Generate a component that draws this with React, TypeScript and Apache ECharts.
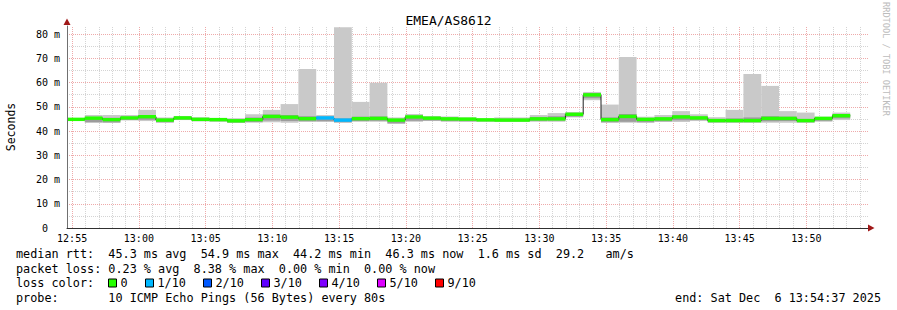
import React, { useEffect, useRef } from "react";
import * as echarts from "echarts";

// ---------- data ----------
const TITLE = "EMEA/AS8612";
const START = new Date(2025, 11, 6, 12, 54, 37).getTime();
const END = new Date(2025, 11, 6, 13, 54, 37).getTime();
const STEP_MS = 80 * 1000;

// x tick labels (hh, mm)
const xTickTimes: [number, number][] = [
  [12, 55], [13, 0], [13, 5], [13, 10], [13, 15], [13, 20],
  [13, 25], [13, 30], [13, 35], [13, 40], [13, 45], [13, 50],
];
const yTickValues = [0, 10, 20, 30, 40, 50, 60, 70, 80];

// median rtt per 80 s step (ms)
const medians = [
  44.8, 45.3, 44.7, 45.4, 45.9, 44.5, 45.4, 44.8, 44.7, 44.2,
  44.7, 46.0, 45.7, 45.1, 45.4, 44.5, 45.1, 45.2, 44.5, 45.8,
  45.3, 45.0, 44.9, 44.6, 44.5, 44.5, 45.0, 45.0, 46.9, 54.9,
  44.7, 46.0, 44.8, 45.0, 45.8, 45.4, 44.3, 44.3, 44.3, 45.2,
  45.2, 44.3, 45.2, 46.3,
];
// fastest ping per step
const pingMin = [
  44.2, 43.4, 43.4, 44.3, 44.1, 43.4, 44.5, 44.0, 43.9, 43.4,
  43.4, 43.6, 43.4, 43.8, 43.8, 43.4, 43.8, 43.8, 42.9, 43.8,
  44.1, 43.8, 43.8, 43.9, 43.8, 43.8, 43.8, 43.8, 45.6, 52.7,
  43.4, 43.4, 43.4, 43.7, 43.7, 44.1, 43.4, 43.4, 43.4, 43.4,
  43.4, 43.4, 43.8, 44.5,
];
// slowest ping per step
const pingMax = [
  45.4, 46.6, 46.6, 46.6, 48.7, 45.6, 46.2, 45.7, 45.3, 45.3,
  46.9, 48.7, 51.1, 65.6, 46.6, 82.8, 52.0, 59.9, 45.6, 47.0,
  46.2, 46.0, 45.6, 45.1, 45.6, 45.6, 46.6, 47.4, 47.8, 56.1,
  50.9, 70.5, 45.9, 46.6, 48.2, 46.9, 45.7, 48.7, 63.5, 58.6,
  48.2, 47.6, 45.9, 47.6,
];
// inner (denser) part of the smoke
const innerLo = [
  44.3, 43.6, 43.5, 44.5, 44.6, 43.6, 44.7, 44.1, 44.0, 43.5,
  43.7, 44.3, 44.1, 44.0, 44.0, 43.6, 44.1, 44.2, 43.2, 44.2,
  44.3, 44.1, 44.0, 44.0, 44.0, 44.0, 44.2, 44.3, 45.9, 53.5,
  43.6, 43.8, 43.6, 44.0, 44.4, 44.5, 43.6, 43.6, 43.6, 44.0,
  44.1, 43.6, 44.2, 45.2,
];
const innerHi = [
  45.2, 45.6, 45.5, 45.9, 46.5, 45.1, 45.9, 45.3, 45.1, 44.8,
  45.6, 46.8, 46.6, 46.1, 45.9, 45.2, 45.9, 46.0, 45.0, 46.3,
  45.8, 45.5, 45.3, 45.0, 45.1, 45.1, 45.8, 46.1, 47.3, 55.6,
  45.6, 47.0, 45.3, 45.6, 46.5, 45.9, 44.9, 45.2, 45.6, 46.1,
  45.9, 44.9, 45.6, 46.8,
];
// packet-loss class per step (index into lossColors)
const lossLevel = [
  0, 0, 0, 0, 0, 0, 0, 0, 0, 0,
  0, 0, 0, 0, 1, 1, 0, 0, 0, 0,
  0, 0, 0, 0, 0, 0, 0, 0, 0, 0,
  0, 0, 0, 0, 0, 0, 0, 0, 0, 0,
  0, 0, 0, 0,
];

const lossColors = ["#26ff00", "#00b8ff", "#0059ff", "#5e00ff", "#7e00ff", "#dd00ff", "#ff0000"];
const lossLabels = ["0", "1/10", "2/10", "3/10", "4/10", "5/10", "9/10"];

const Y_MAX = 83.3;
const yMinorLines = [5, 15, 25, 35, 45, 55, 65, 75];
const yMajorLines = [10, 20, 30, 40, 50, 60, 70, 80];

const statsRtt = "median rtt:  45.3 ms avg  54.9 ms max  44.2 ms min  46.3 ms now  1.6 ms sd  29.2   am/s";
const statsLoss = "packet loss: 0.23 % avg  8.38 % max  0.00 % min  0.00 % now";
const lossColorLabel = "loss color:";
const probeText = "probe:       10 ICMP Echo Pings (56 Bytes) every 80s";
const endText = "end: Sat Dec  6 13:54:37 2025";
const watermark = "RRDTOOL / TOBI OETIKER";

// ---------- styling ----------
const MONO = '"DejaVu Sans Mono", monospace';
const LEG_FONT = `11.8px ${MONO}`;

function pad2(n: number) {
  return String(n).padStart(2, "0");
}

function buildOption() {
  const stepStart = (k: number) => START + k * STEP_MS;

  const smokeData = medians.map((_, k) => [
    stepStart(k),
    stepStart(k + 1),
    pingMin[k],
    innerLo[k],
    innerHi[k],
    pingMax[k],
  ]);
  const bandData = medians.map((m, k) => [stepStart(k), stepStart(k + 1), m, lossLevel[k]]);
  const lineData: number[][] = medians.map((m, k) => [stepStart(k), m]);
  lineData.push([stepStart(medians.length), medians[medians.length - 1]]);

  const xLabelValues = xTickTimes.map(([h, m]) => new Date(2025, 11, 6, h, m, 0).getTime());

  // grid lines (minute / 5-minute, 5 ms / 10 ms)
  const gridMarks: any[] = [];
  const firstMinute = new Date(2025, 11, 6, 12, 55, 0).getTime();
  for (let t = firstMinute; t < END; t += 60000) {
    const major = new Date(t).getMinutes() % 5 === 0;
    gridMarks.push({
      xAxis: t,
      lineStyle: { color: major ? "#eeaaaa" : "#d4d4d4", type: [1, 1], width: 1 },
    });
  }
  yMinorLines.forEach((v) =>
    gridMarks.push({ yAxis: v, lineStyle: { color: "#d4d4d4", type: [1, 1], width: 1 } })
  );
  yMajorLines.forEach((v) =>
    gridMarks.push({ yAxis: v, lineStyle: { color: "#eeaaaa", type: [1, 1], width: 1 } })
  );

  const vmid = { textVerticalAlign: "middle", verticalAlign: "middle" };

  const graphics: any[] = [
    // axis arrows
    {
      type: "polygon",
      shape: { points: [[67, 18.5], [63.5, 25], [70.5, 25]] },
      style: { fill: "#a01818" },
      z: 100,
    },
    {
      type: "polygon",
      shape: { points: [[874.5, 228], [868, 224.5], [868, 231.5]] },
      style: { fill: "#a01818" },
      z: 100,
    },
    {
      type: "text",
      x: 886,
      y: 59,
      rotation: -Math.PI / 2,
      style: {
        text: watermark,
        font: `8.6px ${MONO}`,
        fill: "#bcbcbc",
        textAlign: "center",
        ...vmid,
      },
    },
    { type: "text", style: { text: statsRtt, x: 16, y: 254, font: LEG_FONT, fill: "#000", ...vmid } },
    { type: "text", style: { text: statsLoss, x: 16, y: 268.5, font: LEG_FONT, fill: "#000", ...vmid } },
    { type: "text", style: { text: lossColorLabel, x: 16, y: 283, font: LEG_FONT, fill: "#000", ...vmid } },
    { type: "text", style: { text: probeText, x: 16, y: 297.5, font: LEG_FONT, fill: "#000", ...vmid } },
    {
      type: "text",
      style: { text: endText, x: 881, y: 297.5, font: LEG_FONT, fill: "#000", textAlign: "right", ...vmid },
    },
  ];

  let bx = 108.5;
  lossLabels.forEach((lab, i) => {
    graphics.push({
      type: "rect",
      shape: { x: bx, y: 279, width: 8, height: 8 },
      style: { fill: lossColors[i], stroke: "#000", lineWidth: 1 },
    });
    graphics.push({
      type: "text",
      style: { text: lab, x: bx + 12, y: 283, font: LEG_FONT, fill: "#000", ...vmid },
    });
    bx += 12 + 7 * lab.length + 18;
  });

  return {
    animation: false,
    backgroundColor: "#ffffff",
    title: {
      text: TITLE,
      left: "center",
      top: 9,
      textStyle: { fontFamily: MONO, fontSize: 13, fontWeight: "normal", color: "#000" },
    },
    grid: {
      left: 67,
      top: 26,
      right: 29,
      bottom: 82,
      containLabel: false,
      outerBoundsMode: "none",
    },
    xAxis: {
      type: "value",
      min: START,
      max: END,
      z: 20,
      axisLine: { show: true, onZero: false, lineStyle: { color: "#303030", width: 1 } },
      axisTick: { show: false },
      splitLine: { show: false },
      minorTick: { show: false },
      minorSplitLine: { show: false },
      axisLabel: {
        show: true,
        customValues: xLabelValues,
        margin: 5,
        hideOverlap: false,
        fontFamily: MONO,
        fontSize: 10,
        color: "#000",
        formatter: (v: number) => {
          const d = new Date(v);
          return `${pad2(d.getHours())}:${pad2(d.getMinutes())}`;
        },
      },
    },
    yAxis: {
      type: "value",
      min: 0,
      max: Y_MAX,
      z: 20,
      name: "Seconds",
      nameLocation: "middle",
      nameGap: 50,
      nameRotate: 90,
      nameTextStyle: { fontFamily: MONO, fontSize: 11.5, color: "#000" },
      axisLine: { show: true, lineStyle: { color: "#707070", width: 1 } },
      axisTick: { show: false },
      splitLine: { show: false },
      axisLabel: {
        customValues: yTickValues,
        margin: 7,
        fontFamily: MONO,
        fontSize: 10,
        color: "#000",
        formatter: (v: number) => (v === 0 ? "{z|0}" : `{n|${v} m}`),
        rich: {
          z: { fontFamily: MONO, fontSize: 10, color: "#000", padding: [0, 12, 0, 0] },
          n: { fontFamily: MONO, fontSize: 10, color: "#000" },
        },
      },
    },
    graphic: graphics,
    series: [
      {
        type: "custom",
        name: "smoke",
        z: 10,
        data: smokeData,
        encode: { x: [0, 1], y: [2, 3, 4, 5] },
        renderItem: (params: any, api: any) => {
          const x0 = api.coord([api.value(0), 0])[0];
          const x1 = api.coord([api.value(1), 0])[0];
          const yMin = api.coord([api.value(0), api.value(2)])[1];
          const yIL = api.coord([api.value(0), api.value(3)])[1];
          const yIH = api.coord([api.value(0), api.value(4)])[1];
          const yMax = api.coord([api.value(0), api.value(5)])[1];
          return {
            type: "group",
            children: [
              {
                type: "rect",
                shape: { x: x0, y: yMax, width: x1 - x0, height: yMin - yMax },
                style: { fill: "#c9c9c9" },
              },
              {
                type: "rect",
                shape: { x: x0, y: yIH, width: x1 - x0, height: yIL - yIH },
                style: { fill: "#9c9c9c" },
              },
            ],
          };
        },
      },
      {
        type: "line",
        name: "median",
        z: 11,
        step: "end",
        data: lineData,
        showSymbol: false,
        symbol: "none",
        lineStyle: { color: "#202020", width: 1 },
        silent: true,
        markLine: {
          silent: true,
          symbol: ["none", "none"],
          label: { show: false },
          animation: false,
          data: gridMarks,
        },
      },
      {
        type: "custom",
        name: "loss band",
        z: 12,
        data: bandData,
        encode: { x: [0, 1], y: 2 },
        renderItem: (params: any, api: any) => {
          const x0 = api.coord([api.value(0), 0])[0];
          const x1 = api.coord([api.value(1), 0])[0];
          const ym = api.coord([api.value(0), api.value(2)])[1];
          return {
            type: "rect",
            shape: { x: x0, y: ym - 1.7, width: x1 - x0, height: 3.4 },
            style: { fill: lossColors[api.value(3)] },
          };
        },
      },
    ],
  };
}

export default function App() {
  const ref = useRef<HTMLDivElement>(null);
  useEffect(() => {
    if (!ref.current) return;
    const chart = echarts.init(ref.current, null, { renderer: "svg" });
    chart.setOption(buildOption() as any);
    return () => chart.dispose();
  }, []);
  return (
    <div
      ref={ref}
      style={{ position: "fixed", left: 0, top: 0, width: 897, height: 310, background: "#fff" }}
    />
  );
}
